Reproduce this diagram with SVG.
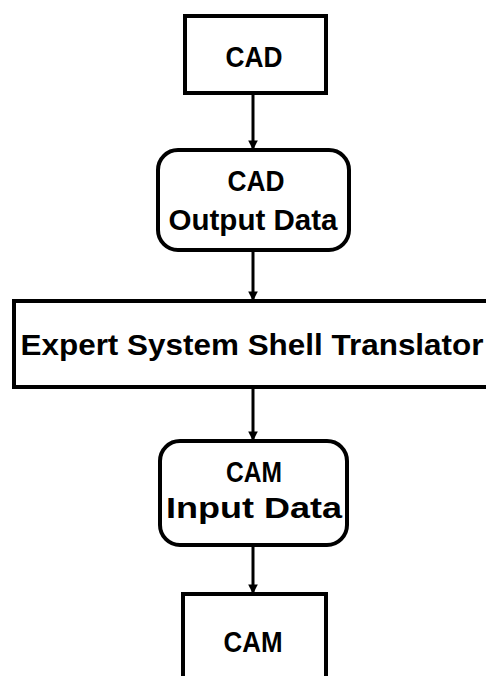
<svg xmlns="http://www.w3.org/2000/svg" width="486" height="676" viewBox="0 0 486 676">
  <defs>
    <marker id="arrow" viewBox="0 0 10 10" refX="10" refY="5" markerWidth="3.2" markerHeight="3.4" orient="auto" markerUnits="strokeWidth">
      <path d="M0,0 L10,5 L0,10 Z" fill="#000"/>
    </marker>
    <style>
      .box { fill: #fff; stroke: #000; stroke-width: 4; }
      .label { font-family: "Liberation Sans", Arial, sans-serif; font-weight: bold; font-size: 29px; fill: #000; text-anchor: middle; }
      .link { stroke: #000; stroke-width: 3; fill: none; marker-end: url(#arrow); }
    </style>
  </defs>
  <rect width="486" height="676" fill="#fff"/>

  <g id="connectors">
    <line class="link" x1="253" y1="93" x2="253" y2="150"/>
    <line class="link" x1="253" y1="250" x2="253" y2="301"/>
    <line class="link" x1="253" y1="387" x2="253" y2="441"/>
    <line class="link" x1="253" y1="545" x2="253" y2="594"/>
  </g>

  <g id="cad">
    <rect class="box" x="185" y="16" width="141" height="77"/>
    <text class="label" x="254" y="67" textLength="57" lengthAdjust="spacingAndGlyphs">CAD</text>
  </g>

  <g id="cad-output-data">
    <rect class="box" x="158" y="150" width="191" height="100" rx="20" ry="20"/>
    <text class="label" x="256" y="191" textLength="57" lengthAdjust="spacingAndGlyphs">CAD</text>
    <text class="label" x="253" y="230" textLength="169" lengthAdjust="spacingAndGlyphs">Output Data</text>
  </g>

  <g id="translator">
    <rect class="box" x="14" y="301" width="490" height="86"/>
    <text class="label" x="252" y="355" textLength="463" lengthAdjust="spacingAndGlyphs">Expert System Shell Translator</text>
  </g>

  <g id="cam-input-data">
    <rect class="box" x="160" y="441" width="187" height="104" rx="20" ry="20"/>
    <text class="label" x="254" y="482" textLength="56" lengthAdjust="spacingAndGlyphs">CAM</text>
    <text class="label" x="254" y="518" textLength="176" lengthAdjust="spacingAndGlyphs">Input Data</text>
  </g>

  <g id="cam">
    <rect class="box" x="183" y="594" width="143" height="90"/>
    <text class="label" x="253" y="652" textLength="59" lengthAdjust="spacingAndGlyphs">CAM</text>
  </g>
</svg>
